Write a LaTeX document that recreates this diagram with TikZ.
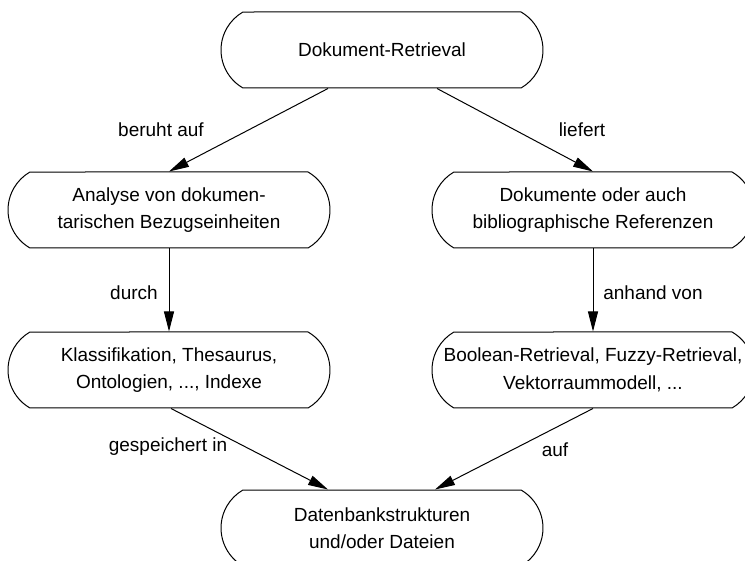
\documentclass[tikz,border=0pt]{standalone}
\usepackage{fontspec}
\setmainfont{Liberation Sans}
\usetikzlibrary{shapes.misc,arrows.meta}
\begin{document}
\begin{tikzpicture}[x=0.5pt,y=-0.5pt,
  box/.style={draw, line width=0.5pt, rounded rectangle, rounded rectangle arc length=120,
    minimum width=161pt, minimum height=38pt, inner sep=0pt, align=center,
    font=\fontsize{9.5}{13.75}\selectfont},
  lab/.style={inner sep=0pt, font=\fontsize{9.5}{13.75}\selectfont},
  conn/.style={line width=0.5pt, -{Triangle[length=10pt,width=5pt]}}]
\useasboundingbox (0,0) rectangle (745,561);
\clip (0,0) rectangle (745,561);
\node[box] (top) at (382,50) {Dokument-Retrieval};
\node[box] (l1) at (169,210) {Analyse von dokumen-\\tarischen Bezugseinheiten};
\node[box] (r1) at (593,210) {Dokumente oder auch\\bibliographische Referenzen};
\node[box] (l2) at (169,370) {Klassifikation, Thesaurus,\\Ontologien, ..., Indexe};
\node[box] (r2) at (593,370) {Boolean-Retrieval, Fuzzy-Retrieval,\\Vektorraummodell, ...};
\node[box] (bot) at (382,528) {Datenbankstrukturen\\und/oder Dateien};

\draw[conn] ([xshift=-27pt]top.south) -- (l1.north);
\draw[conn] ([xshift=27.5pt]top.south) -- (r1.north);
\draw[conn] (l1.south) -- (l2.north);
\draw[conn] (r1.south) -- (r2.north);
\draw[conn] ([xshift=1pt]l2.south) -- ([xshift=-27pt]bot.north);
\draw[conn] (r2.south) -- ([xshift=26.5pt]bot.north);

\node[lab] (t1) at (161,130) {beruht auf};
\node[lab] (t2) at (582,130) {liefert};
\node[lab] (t3) at (134,293) {durch};
\node[lab] (t4) at (653,293) {anhand von};
\node[lab] (t5) at (168,447) {gespeichert in};
\node[lab] (t6) at (555,450) {auf};
\end{tikzpicture}
\end{document}
